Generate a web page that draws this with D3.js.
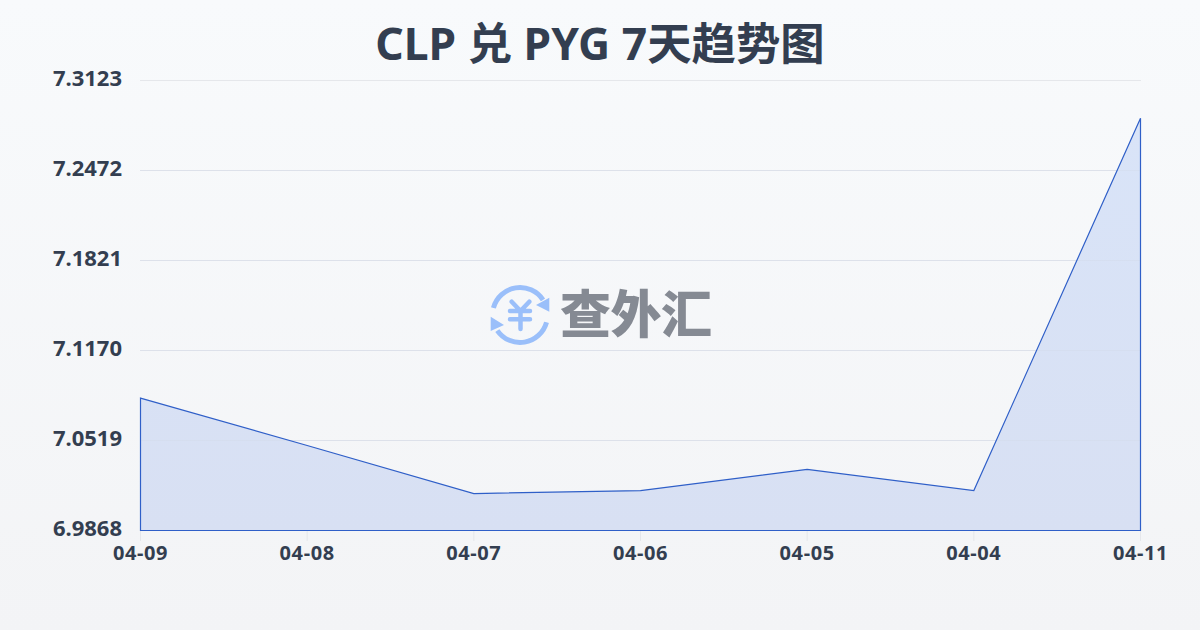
<!DOCTYPE html>
<html><head><meta charset="utf-8">
<script src="https://cdn.jsdelivr.net/npm/d3@7"></script>
<style>html,body{margin:0;padding:0;width:1200px;height:630px;overflow:hidden}
text{font-family:"Noto Sans","Noto Sans CJK SC",sans-serif}</style></head><body>
<script>
const titleText = "CLP 兑 PYG 7天趋势图";
const watermark = "查外汇";
const dates = ["04-09","04-08","04-07","04-06","04-05","04-04","04-11"];
const rates = [7.0826,7.0483,7.0135,7.0157,7.0310,7.0157,7.2850];
const yTicks = [6.9868,7.0519,7.1170,7.1821,7.2472,7.3123];

const svg = d3.select("body").append("svg").attr("width",1200).attr("height",630).style("display","block");
const defs = svg.append("defs");
const bg = defs.append("linearGradient").attr("id","bg").attr("x1",0).attr("y1",0).attr("x2",0).attr("y2",1);
bg.append("stop").attr("offset",0).attr("stop-color","#f8fafc");
bg.append("stop").attr("offset",1).attr("stop-color","#f3f4f6");
const af = defs.append("linearGradient").attr("id","af").attr("x1",0).attr("y1",0).attr("x2",0).attr("y2",1);
af.append("stop").attr("offset",0).attr("stop-color","#d9e4f8");
af.append("stop").attr("offset",1).attr("stop-color","#d8e0f3");
svg.append("rect").attr("width",1200).attr("height",630).attr("fill","url(#bg)");

const x = d3.scalePoint().domain(dates).range([140.5,1140.5]);
const y = d3.scaleLinear().domain([yTicks[0],yTicks[yTicks.length-1]]).range([530.5,80.5]);

svg.append("text").attr("x",600).attr("y",60).attr("text-anchor","middle")
  .attr("font-size",44.4).attr("font-weight",700).attr("fill","#333e50").text(titleText);

// grid
svg.append("g").selectAll("line").data(yTicks).join("line")
  .attr("x1",140).attr("x2",1141).attr("y1",d=>y(d)).attr("y2",d=>y(d))
  .attr("stroke","#e5e7eb").attr("stroke-width",1);

// area + line
const area = d3.area().x((d,i)=>x(dates[i])).y0(y(yTicks[0])).y1(d=>y(d));
svg.append("path").datum(rates).attr("d",area).attr("fill","url(#af)");
svg.append("g").selectAll("line").data(yTicks.slice(1,-1)).join("line")
  .attr("x1",140).attr("x2",1141).attr("y1",d=>y(d)).attr("y2",d=>y(d))
  .attr("stroke","#d3d9e8").attr("stroke-opacity",.4);
svg.append("path").datum(rates).attr("d",area).attr("fill","none").attr("stroke","#2f5fc8").attr("stroke-width",1.2);

// x ticks
svg.append("g").selectAll("line").data(dates).join("line")
  .attr("x1",d=>x(d)).attr("x2",d=>x(d)).attr("y1",531).attr("y2",541)
  .attr("stroke","#e5e7eb");
svg.append("g").selectAll("text").data(dates).join("text")
  .attr("x",d=>x(d)).attr("y",559.5).attr("text-anchor","middle")
  .attr("font-size",20).attr("letter-spacing",0.6).attr("font-weight",700).attr("fill","#333e50").text(d=>d);
svg.append("g").selectAll("text").data(yTicks).join("text")
  .attr("x",122).attr("y",d=>y(d)+5.5).attr("text-anchor","end")
  .attr("font-size",22).attr("font-weight",700).attr("fill","#333e50").text(d=>d.toFixed(4));

// watermark logo
const logo = svg.append("g").attr("transform","translate(520,315)");
const blue="#9abffa";
logo.selectAll("path.arc").data([[-1.31,0.99],[1.84,4.11]]).join("path")
  .attr("d",d=>d3.arc().innerRadius(27.5).outerRadius(27.5)({startAngle:d[0],endAngle:d[1]}))
  .attr("fill","none").attr("stroke",blue).attr("stroke-width",5).attr("stroke-linecap","round");
logo.append("path").attr("d","M29.3 -17.3 V-3.3 L16 -10 Z M-29.3 1.7 V16 L-16 10 Z").attr("fill",blue);
logo.append("path").attr("d","M-8.3 -13.3 L0.5 -4 L9.3 -13.3 M-10 -4 H10 M-10 4.3 H10 M0.5 -4 V14")
  .attr("fill","none").attr("stroke",blue).attr("stroke-width",4.5).attr("stroke-linecap","round").attr("stroke-linejoin","round");
svg.append("text").attr("x",560).attr("y",333).attr("font-size",51).attr("font-weight",900)
  .attr("fill","#858a93").style("font-family",'"Noto Sans CJK SC"').attr("textLength",152).text(watermark);
</script></body></html>
